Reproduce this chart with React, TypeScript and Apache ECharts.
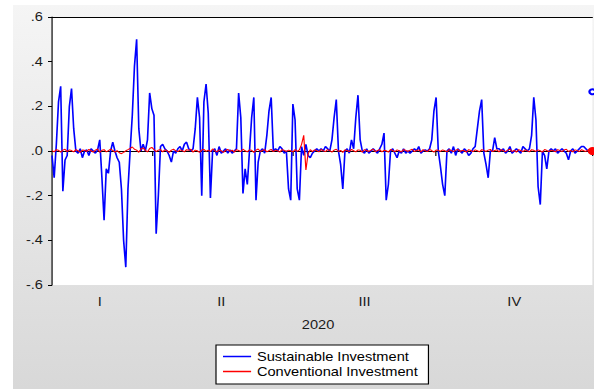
import React, { useEffect, useRef } from "react";
import * as echarts from "echarts";

// horizontal stretch of the original picture
const S = 1.17;
const FULL_W = 594;
const FULL_H = 389;
const CHART_W = FULL_W / S;

const seriesNames = ["Sustainable Investment", "Conventional Investment"];
const seriesColors = ["#0000ff", "#ff0000"];
const yearLabel = "2020";
const quarterLabels = ["I", "II", "III", "IV"];
const quarterLabelIndex = [22, 78, 144, 213];
const quarterEndIndex = [46, 111, 177, 249];
const yTickValues = [0.6, 0.4, 0.2, 0, -0.2, -0.4, -0.6];
const yTickLabels = [".6", ".4", ".2", ".0", "-.2", "-.4", "-.6"];

const sustainable: (number | null)[] = [
  -0.02, -0.12, 0.03, 0.22, 0.29, -0.18, -0.04, -0.02, 0.2, 0.28,
  0.1, 0.0, -0.01, 0.01, -0.03, 0.0, 0.005, -0.02, 0.01, 0.0,
  -0.01, 0.005, 0.05, -0.12, -0.31, -0.08, -0.1, 0.0, 0.04, 0.0,
  -0.03, -0.05, -0.17, -0.4, -0.52, -0.17, 0.0, 0.16, 0.38, 0.5,
  0.1, 0.0, 0.03, 0.0, 0.05, 0.26, 0.19, 0.16, -0.37, -0.2,
  0.02, 0.03, 0.01, 0.0, -0.02, -0.05, 0.0, -0.01, 0.01, 0.02,
  0.0, 0.03, 0.04, 0.01, 0.0, 0.01, 0.1, 0.24, 0.15, -0.2,
  0.22, 0.3, 0.17, -0.21, 0.0, 0.01, -0.02, 0.02, -0.01, 0.0,
  0.01, -0.01, 0.005, -0.01, 0.0, 0.01, 0.26, 0.15, -0.19, -0.08,
  -0.15, 0.0, 0.15, 0.24, -0.22, -0.05, 0.0, 0.01, -0.01, 0.07,
  0.18, 0.24, 0.0, 0.01, 0.0, 0.02, 0.01, -0.01, 0.0, -0.17,
  -0.22, 0.21, 0.14, -0.17, -0.22, 0.02, -0.02, 0.03, -0.02, -0.03,
  -0.01, 0.0, 0.01, 0.0, 0.01, 0.0, 0.02, 0.01, 0.0, 0.05,
  0.15, 0.23, 0.0, -0.06, -0.17, 0.0, 0.01, -0.01, 0.05, 0.01,
  0.15, 0.25, 0.05, 0.0, -0.01, 0.01, -0.01, 0.0, 0.01, 0.0,
  -0.01, 0.01, 0.03, 0.08, -0.22, -0.15, 0.0, 0.01, -0.01, -0.03,
  0.0, -0.01, 0.01, -0.01, 0.0, -0.01, 0.0, 0.01, 0.0, 0.02,
  -0.01, 0.0, 0.005, 0.0, 0.01, 0.05, 0.18, 0.24, 0.0, -0.07,
  -0.15, -0.2, 0.0, 0.01, -0.01, 0.02, -0.02, 0.01, 0.0, -0.01,
  0.01, 0.0, -0.02, -0.01, 0.01, 0.02, 0.1, 0.18, 0.23, -0.01,
  -0.06, -0.12, 0.0, 0.0, 0.06, 0.01, 0.01, 0.0, 0.01, -0.01,
  0.0, 0.02, -0.01, 0.0, 0.01, 0.0, -0.01, 0.02, 0.01, 0.0,
  0.01, 0.07, 0.24, 0.14, -0.16, -0.24, 0.0, -0.02, -0.08, 0.0,
  0.01, 0.0, 0.01, -0.01, 0.0, 0.01, 0.0, -0.01, -0.04, 0.0,
  0.01, -0.01, 0.0, 0.01, 0.02, 0.02, 0.01, 0.0, null, 0.265,
];

const conventional: number[] = [
  0.002, -0.004, 0.006, 0.003, -0.005, 0.004, 0.008, -0.003, 0.005, 0.002,
  -0.004, 0.006, 0.001, -0.006, 0.004, 0.003, -0.002, 0.007, 0.001, -0.005,
  0.004, 0.009, -0.006, 0.003, 0.006, -0.004, 0.002, 0.008, 0.003, -0.005,
  0.002, -0.008, -0.012, -0.006, 0.001, 0.006, 0.012, 0.018, 0.008, 0.004,
  -0.006, 0.009, 0.014, 0.003, -0.004, 0.011, 0.016, 0.006, -0.003, 0.004,
  0.007, -0.004, 0.005, 0.002, -0.006, 0.004, 0.008, 0.001, -0.003, 0.005,
  0.002, -0.004, 0.006, 0.003, 0.008, -0.005, 0.004, 0.001, -0.006, 0.005,
  0.007, -0.002, 0.004, -0.003, 0.009, 0.002, -0.004, 0.005, 0.001, -0.006,
  0.003, 0.007, -0.002, 0.004, -0.005, 0.006, 0.002, -0.003, 0.008, 0.001,
  -0.004, 0.005, 0.003, -0.006, 0.004, 0.009, -0.002, 0.003, 0.006, -0.004,
  0.002, 0.007, -0.003, 0.004, 0.001, -0.005, 0.006, 0.003, -0.002, 0.004,
  0.001, -0.004, 0.006, -0.002, 0.005, 0.03, 0.07, -0.085, -0.012, 0.006,
  -0.003, 0.005, 0.002, -0.004, 0.007, 0.001, -0.003, 0.006, 0.002, -0.005,
  0.004, 0.008, -0.002, 0.003, -0.006, 0.005, 0.002, -0.003, 0.007, 0.001,
  -0.004, 0.005, 0.003, -0.005, 0.006, 0.002, -0.002, 0.004, 0.008, -0.003,
  0.002, 0.006, -0.004, 0.003, 0.001, -0.005, 0.007, 0.002, -0.003, 0.005,
  0.001, -0.004, 0.006, 0.003, -0.002, 0.004, 0.008, -0.003, 0.002, 0.005,
  -0.004, 0.006, 0.001, -0.003, 0.007, 0.002, -0.005, 0.004, 0.003, -0.002,
  0.005, 0.001, -0.004, 0.006, 0.002, -0.003, 0.004, 0.007, -0.002, 0.003,
  0.001, -0.005, 0.006, 0.002, -0.003, 0.005, 0.001, -0.004, 0.006, 0.003,
  -0.002, 0.004, 0.007, -0.003, 0.002, 0.005, -0.004, 0.006, 0.001, -0.003,
  0.004, 0.008, -0.002, 0.003, -0.005, 0.006, 0.002, -0.003, 0.005, 0.001,
  -0.004, 0.006, 0.003, -0.002, 0.005, 0.001, -0.005, 0.007, 0.002, -0.003,
  0.004, 0.001, -0.004, 0.006, 0.002, -0.003, 0.005, 0.008, -0.002, 0.003,
  -0.004, 0.005, 0.002, -0.003, 0.006, 0.001, -0.002, 0.004, 0.002, 0.0,
];

const FONT = "'Liberation Sans', Arial, Helvetica, sans-serif";

export default function App() {
  const ref = useRef<HTMLDivElement>(null);

  useEffect(() => {
    if (!ref.current) return;
    const chart = echarts.init(ref.current, null, { renderer: "svg" });
    const categories = sustainable.map((_, i) => String(i));
    const last = sustainable.length - 1;
    const blueData = sustainable.map((v, i) =>
      i === last ? { value: v, symbol: "emptyCircle", symbolSize: 5 } : v
    );
    const redData = conventional.map((v, i) =>
      i === conventional.length - 1 ? { value: v, symbol: "circle", symbolSize: 7 } : v
    );

    chart.setOption({
      animation: false,
      textStyle: { fontFamily: FONT },
      grid: {
        left: 52 / S,
        right: CHART_W - 592 / S,
        top: 17,
        bottom: FULL_H - 285,
        show: true,
        backgroundColor: "#ffffff",
        borderWidth: 0,
      },
      legend: {
        data: seriesNames.map((name, k) => ({
          name,
          icon: "rect",
          itemStyle: { color: seriesColors[k], borderColor: seriesColors[k], borderWidth: 0, opacity: 1 },
        })),
        orient: "vertical",
        left: 216 / S,
        top: 345,
        itemWidth: 24,
        itemHeight: 1.5,
        itemGap: 2,
        padding: [5, 9, 6, 6],
        backgroundColor: "#ffffff",
        borderColor: "#000000",
        borderWidth: 1,
        borderRadius: 0,
        textStyle: { fontSize: 12.5, color: "#000000", fontFamily: FONT },
      },
      xAxis: [
        {
          type: "category",
          data: categories,
          boundaryGap: false,
          axisLine: { lineStyle: { color: "#000000", width: 1 } },
          axisTick: {
            show: true,
            interval: (i: number) => quarterEndIndex.includes(i),
            length: 5,
            lineStyle: { color: "#000000" },
          },
          axisLabel: {
            interval: (i: number) => quarterLabelIndex.includes(i),
            formatter: (v: string) => {
              const k = quarterLabelIndex.indexOf(Number(v));
              return k >= 0 ? quarterLabels[k] : "";
            },
            margin: 10,
            fontSize: 12.5,
            color: "#1a1a1a",
            fontFamily: FONT,
          },
          splitLine: { show: false },
          name: yearLabel,
          nameLocation: "middle",
          nameGap: 33,
          nameTextStyle: { fontSize: 12.5, color: "#1a1a1a", fontFamily: FONT, padding: [0, 7, 0, 0] },
        },
        {
          type: "category",
          data: categories,
          boundaryGap: false,
          position: "top",
          axisLine: { lineStyle: { color: "#000000", width: 1 } },
          axisTick: { show: false },
          axisLabel: { show: false },
          splitLine: { show: false },
        },
      ],
      yAxis: {
        type: "value",
        min: -0.6,
        max: 0.6,
        interval: 0.2,
        axisLine: { show: true, lineStyle: { color: "#000000", width: 1 } },
        axisTick: { show: true, length: 4 / S, lineStyle: { color: "#000000" } },
        axisLabel: {
          margin: 9 / S,
          fontSize: 12.5,
          color: "#1a1a1a",
          fontFamily: FONT,
          formatter: (v: number) => {
            const k = yTickValues.findIndex((t) => Math.abs(t - v) < 1e-6);
            return k >= 0 ? yTickLabels[k] : "";
          },
        },
        splitLine: { show: false },
      },
      series: [
        {
          name: seriesNames[0],
          type: "line",
          xAxisIndex: 0,
          data: blueData,
          symbol: "none",
          showSymbol: true,
          showAllSymbol: true,
          connectNulls: false,
          lineStyle: { color: seriesColors[0], width: 1.4 },
          itemStyle: { color: seriesColors[0], borderColor: seriesColors[0], borderWidth: 1 },
          emphasis: { disabled: true },
          z: 2,
        },
        {
          name: seriesNames[1],
          type: "line",
          xAxisIndex: 0,
          data: redData,
          symbol: "none",
          showSymbol: true,
          showAllSymbol: true,
          lineStyle: { color: seriesColors[1], width: 1 },
          itemStyle: { color: seriesColors[1], borderColor: seriesColors[1] },
          emphasis: { disabled: true },
          z: 3,
        },
      ],
    });

    return () => chart.dispose();
  }, []);

  return (
    <div
      style={{
        position: "absolute",
        left: 0,
        top: 0,
        width: FULL_W,
        height: FULL_H,
        overflow: "hidden",
        background: "#ffffff",
      }}
    >
      <div
        style={{
          position: "absolute",
          left: 13,
          top: 5,
          right: 0,
          bottom: 0,
          background: "linear-gradient(#f5f5f5, #d8d8d8)",
        }}
      />
      <div
        ref={ref}
        style={{
          position: "absolute",
          left: 0,
          top: 0,
          width: CHART_W,
          height: FULL_H,
          transform: `scaleX(${S})`,
          transformOrigin: "0 0",
        }}
      />
    </div>
  );
}
